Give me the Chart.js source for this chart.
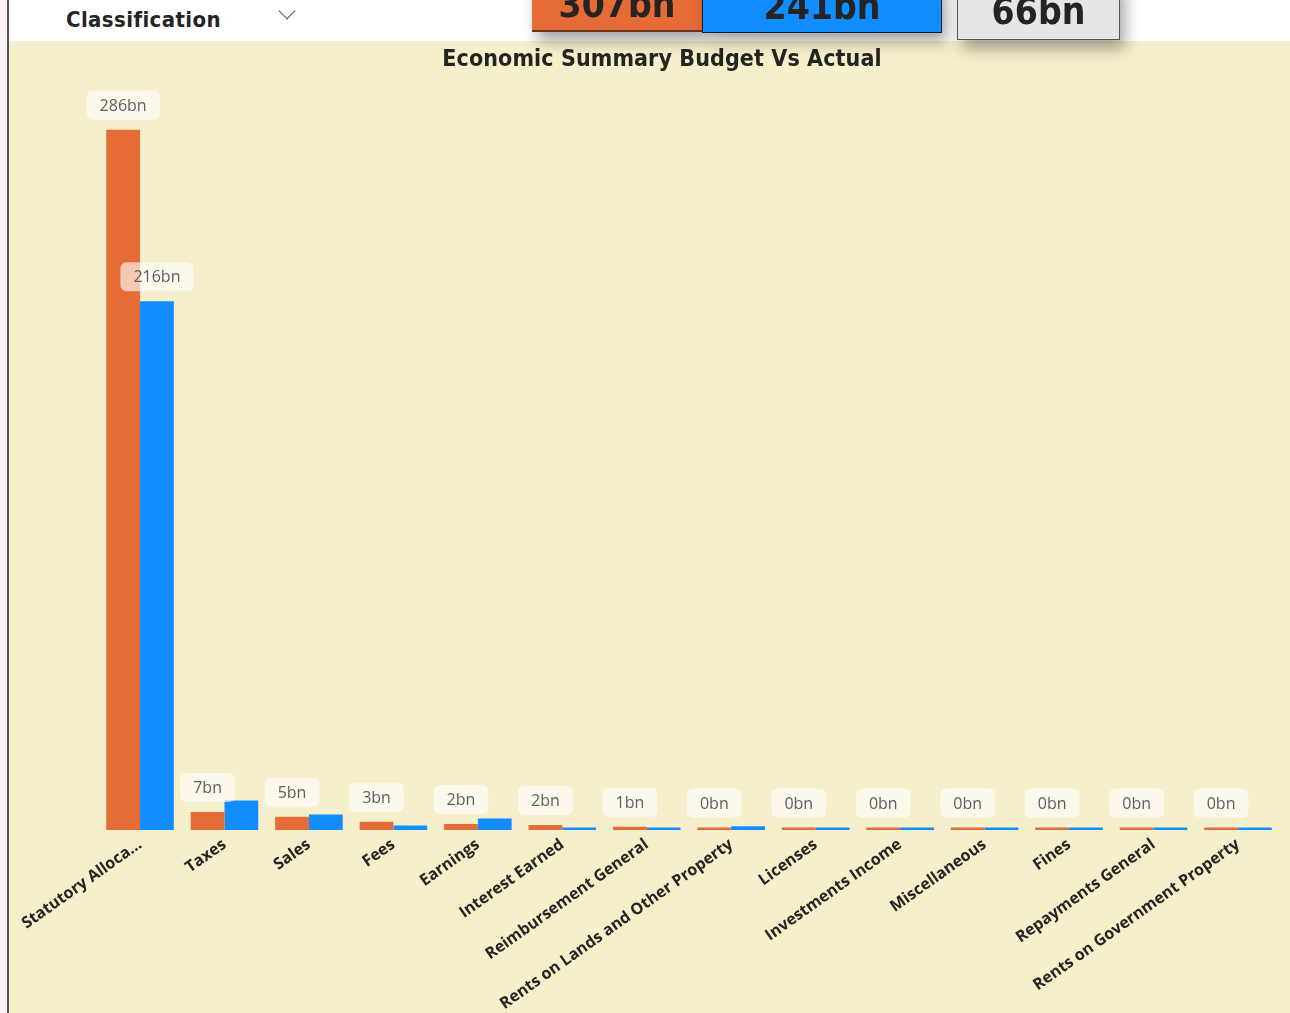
<!DOCTYPE html>
<html>
<head>
<meta charset="utf-8">
<title>Economic Summary Budget Vs Actual</title>
<script src="https://cdn.jsdelivr.net/npm/chart.js@4.4.1/dist/chart.umd.min.js"></script>
<style>
  html, body { margin: 0; padding: 0; width: 1290px; height: 1013px; overflow: hidden; background: #fff; }
  body { position: relative; font-family: 'DejaVu Sans Condensed', 'DejaVu Sans', sans-serif; }
  .edge { position: absolute; left: 0; top: 0; width: 7px; height: 1013px; background: #fcf3f7; }
  .edge-line { position: absolute; left: 7px; top: 0; width: 2px; height: 1013px; background: #5e4d54; }
  .slicer { position: absolute; left: 45px; top: 0; width: 273px; height: 41px; background: #fff; }
  .slicer .name { position: absolute; left: 21px; top: 7px; font-size: 22px; font-weight: bold; color: #252423; letter-spacing: 0.4px; }
  .slicer .chev { position: absolute; left: 236px; top: 5px; width: 11px; height: 11px;
    border-right: 1.5px solid #555; border-bottom: 1.5px solid #555; transform: rotate(45deg); }
  .panel { position: absolute; left: 9px; top: 41px; width: 1281px; height: 972px; background: #f6efcc; }
  .title { position: absolute; left: 0; width: 1306px; top: 3px; text-align: center;
    font-size: 23px; font-weight: bold; color: #252423; line-height: 28px; letter-spacing: 0.1px; }
  .card { position: absolute; top: -20px; box-shadow: 5px 9px 14px rgba(0,0,0,0.35);
    font-size: 37px; font-weight: bold; color: #252423; text-align: center; line-height: 44px; }
  .card span { position: absolute; left: 0; right: 0; bottom: 3px; }
  .c1 { left: 532px; width: 170px; height: 50px; background: #e66c37; border-bottom: 2px solid #6b3418; }
  .c2 { left: 702px; width: 238px; height: 52px; background: #118dff; border: 1px solid #1c1c1c; border-top: none; }
  .c3 { left: 957px; width: 161px; height: 59px; background: #e6e6e6; border: 1px solid #555; border-top: none; }
  .c3 span { bottom: 5px; }
  canvas { position: absolute; left: 0; top: 0; }
</style>
</head>
<body>
<div class="edge"></div>
<div class="edge-line"></div>
<div class="panel">
  <canvas id="chart" width="1281" height="972"></canvas>
  <div class="title">Economic Summary Budget Vs Actual</div>
</div>
<div class="slicer"><div class="name">Classification</div><div class="chev"></div></div>
<div class="card c1"><span>307bn</span></div>
<div class="card c2"><span>241bn</span></div>
<div class="card c3"><span>66bn</span></div>
<script>
// categories and values in billions
const categories = [
    'Statutory Alloca...', 'Taxes', 'Sales', 'Fees', 'Earnings', 'Interest Earned',
    'Reimbursement General', 'Rents on Lands and Other Property', 'Licenses',
    'Investments Income', 'Miscellaneous', 'Fines', 'Repayments General',
    'Rents on Government Property'
];
const budget = [286, 7.4, 5.4, 3.4, 2.4, 2.0, 1.3, 0.4, 0.3, 0.3, 0.3, 0.3, 0.3, 0.3];
const actual = [216, 12.1, 6.3, 1.8, 4.7, 0.7, 0.6, 1.5, 0.3, 0.3, 0.3, 0.3, 0.3, 0.3];

// labels in rounded boxes, skipped when they would collide (like Power BI)
const boxLabels = {
    id: 'boxLabels',
    afterDatasetsDraw(chart) {
        const ctx = chart.ctx;
        const placed = [];
        ctx.save();
        ctx.font = '16px "Segoe UI", "Open Sans", sans-serif';
        ctx.textAlign = 'center';
        ctx.textBaseline = 'middle';
        chart.data.datasets.forEach((ds, di) => {
            chart.getDatasetMeta(di).data.forEach((bar, i) => {
                const text = Math.round(ds.data[i]) + 'bn';
                const w = ctx.measureText(text).width + 26;
                const h = 29;
                const x = bar.x - w / 2;
                const y = bar.y - 10 - h;
                const hit = placed.some(b => x < b.x + b.w && x + w > b.x && y < b.y + b.h && y + h > b.y);
                if (hit) return;
                placed.push({ x, y, w, h });
                ctx.fillStyle = 'rgba(255,255,255,0.62)';
                ctx.beginPath();
                ctx.roundRect(x, y, w, h, 6);
                ctx.fill();
                ctx.fillStyle = '#605e5c';
                ctx.fillText(text, bar.x, y + h / 2 + 1);
            });
        });
        ctx.restore();
    }
};

new Chart(document.getElementById('chart'), {
    type: 'bar',
    data: {
        labels: categories,
        datasets: [
            { label: 'Budget', data: budget, backgroundColor: '#e66c37', minBarLength: 2.5 },
            { label: 'Actual', data: actual, backgroundColor: '#118dff', minBarLength: 2.5 }
        ]
    },
    options: {
        responsive: false,
        animation: false,
        layout: { padding: { left: 88.8, right: 9.8, top: 54.6, bottom: 0 } },
        datasets: { bar: { categoryPercentage: 0.8, barPercentage: 1.0 } },
        plugins: {
            legend: { display: false },
            tooltip: { enabled: false }
        },
        scales: {
            x: {
                grid: { display: false, drawTicks: false },
                border: { display: false },
                ticks: {
                    autoSkip: false,
                    minRotation: 35.4,
                    maxRotation: 35.4,
                    padding: 5,
                    color: '#252423',
                    font: { family: '"Segoe UI", "Open Sans", sans-serif', size: 16, weight: 'bold' }
                },
                afterFit(scale) { scale.height = 183; }
            },
            y: { display: false, min: 0, max: 300 }
        }
    },
    plugins: [boxLabels]
});
</script>
</body>
</html>
